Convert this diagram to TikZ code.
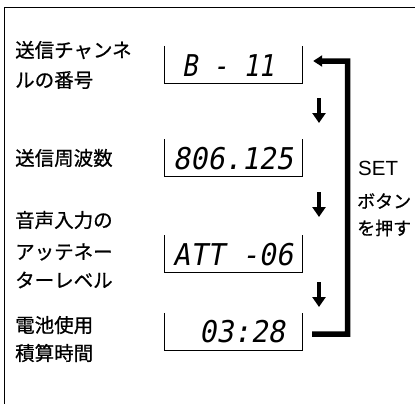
\documentclass[tikz,border=0pt]{standalone}
\usepackage{fontspec}
\setmainfont{Noto Sans CJK JP}
\newfontfamily\jpfont[FakeBold=0.7]{Noto Sans CJK JP}
\newfontfamily\latinfont{Liberation Sans}
\newfontfamily\segfont[FakeSlant=0.18,FakeStretch=0.95]{DejaVu Sans Mono}
\newfontfamily\segnfont[FakeSlant=0.18,FakeStretch=0.85]{DejaVu Sans Mono}
\usetikzlibrary{arrows.meta}
\tikzset{
  frameline/.style={line width=1bp},
  boxline/.style={line width=1bp},
  dispbox/.style={draw=none,minimum width=138bp,minimum height=37bp,inner sep=0pt},
  segtext/.style={inner sep=0pt,font=\segfont\fontsize{30bp}{30bp}\selectfont},
  segntext/.style={inner sep=0pt,font=\segnfont\fontsize{30bp}{30bp}\selectfont},
  lbl/.style={anchor=west,inner sep=0pt,font=\jpfont\fontsize{19.5bp}{19.5bp}\selectfont},
  setlbl/.style={anchor=west,inner sep=0pt,font=\jpfont\fontsize{18bp}{18bp}\selectfont},
  setlat/.style={anchor=west,inner sep=0pt,font=\latinfont\fontsize{20.5bp}{20.5bp}\selectfont},
  downarrow/.style={line width=4.5bp,-{Triangle[width=13bp,length=10bp]}},
  bracket/.style={line width=5.5bp,line join=miter,-{Triangle[width=11bp,length=9bp]}}
}
\begin{document}
\begin{tikzpicture}[x=1bp,y=-1bp]
\useasboundingbox (0,0) rectangle (415,404);
% frame
\draw[frameline] (415,7) -- (4,7) -- (4,404);
% labels
\node[lbl] (l1a) at (15,50) {送信チャンネ};
\node[lbl] (l1b) at (15,80) {ルの番号};
\node[lbl] (l2) at (15,158) {送信周波数};
\node[lbl] (l3a) at (15,220) {音声入力の};
\node[lbl] (l3b) at (15,252) {アッテネー};
\node[lbl] (l3c) at (15,280) {ターレベル};
\node[lbl] (l4a) at (15,325) {電池使用};
\node[lbl] (l4b) at (15,353) {積算時間};
% display boxes
\node[dispbox] (b1) at (233.5,64.5) {};
\node[dispbox] (b2) at (233.5,158) {};
\node[dispbox] (b3) at (233.5,254) {};
\node[dispbox] (b4) at (233.5,331.5) {};
\foreach \b in {b1,b2,b3,b4}{
  \draw[boxline] (\b.north west) -- (\b.south west) -- (\b.south east) -- (\b.north east);
}
% display texts
\node[segntext] (d1) at (228,66) {B - 11};
\node[segtext] (d2) at (233,159) {806.125};
\node[segtext] (d3) at (233,255) {ATT -06};
\node[segtext] (d4) at (242,332) {03:28};
% down arrows
\coordinate (a1s) at (319,98);  \coordinate (a1e) at (319,123);
\coordinate (a2s) at (319,192); \coordinate (a2e) at (319,217);
\coordinate (a3s) at (319,282); \coordinate (a3e) at (319,307);
\draw[downarrow] (a1s) -- (a1e);
\draw[downarrow] (a2s) -- (a2e);
\draw[downarrow] (a3s) -- (a3e);
% return bracket
\coordinate (c4) at ([shift={(9.5,2.5)}]b4.east);
\coordinate (c1) at ([shift={(10.5,-3.5)}]b1.east);
\coordinate (c4b) at (347.5,334);
\coordinate (c1b) at (347.5,61);
\draw[bracket] (c4) -- (c4b) -- (c1b) -- (c1);
% SET label
\node[setlat] (s1) at (358,168) {SET};
\node[setlbl] (s2) at (357,201) {ボタン};
\node[setlbl] (s3) at (357,228) {を押す};
\end{tikzpicture}
\end{document}
